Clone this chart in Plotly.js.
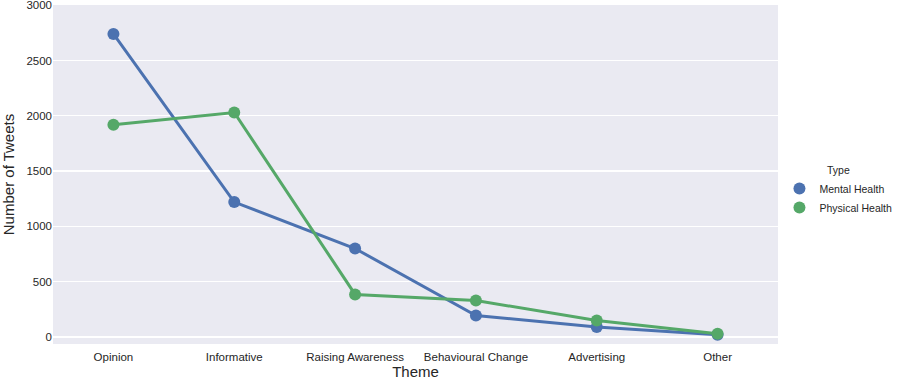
<!DOCTYPE html>
<html><head><meta charset="utf-8">
<script src="https://cdn.plot.ly/plotly-3.0.1.min.js"></script>
<style>html,body{margin:0;padding:0;background:#fff}</style>
</head><body><div id="chart" style="width:898px;height:380px"></div>
<script>
const themes = ["Opinion","Informative","Raising Awareness","Behavioural Change","Advertising","Other"];
const mentalHealth = [2740, 1220, 800, 195, 90, 20];
const physicalHealth = [1920, 2030, 385, 330, 150, 30];
const seriesNames = ["Mental Health","Physical Health"];
const colors = ['#4C72B0', '#55A868'];
const yTicks = [0, 500, 1000, 1500, 2000, 2500, 3000];

const mk = (name, y, color) => ({
  type: 'scatter', mode: 'lines+markers', name: name, x: themes, y: y, showlegend: false,
  line: {color: color, width: 3}, marker: {color: color, size: 12}
});
const proxy = (name, color) => ({
  type: 'scatter', mode: 'markers', name: name, x: [themes[0]], y: [null],
  marker: {color: color, size: 12}
});
const data = [
  mk(seriesNames[0], mentalHealth, colors[0]),
  mk(seriesNames[1], physicalHealth, colors[1]),
  proxy(seriesNames[0], colors[0]),
  proxy(seriesNames[1], colors[1])
];
const layout = {
  width: 898, height: 380,
  margin: {l: 53, r: 120, t: 5, b: 36, autoexpand: false},
  paper_bgcolor: '#ffffff', plot_bgcolor: '#EAEAF2',
  font: {family: 'Liberation Sans, Arial, sans-serif', color: '#262626', size: 11.5},
  xaxis: {type: 'category', range: [-0.5, 5.5], showgrid: false, zeroline: false,
    ticks: 'outside', ticklen: 2, tickcolor: 'rgba(0,0,0,0)', tickfont: {size: 11.5, color: '#262626'},
    title: {text: 'Theme', font: {size: 15, color: '#262626'}, standoff: 13}},
  yaxis: {range: [-63, 3002], tickvals: yTicks, showgrid: true, gridcolor: '#ffffff', gridwidth: 1.3,
    zeroline: false, ticks: '', ticklabeloverflow: 'allow', tickfont: {size: 11.5, color: '#262626'},
    title: {text: 'Number of Tweets', font: {size: 15, color: '#262626'}, standoff: 8}},
  legend: {x: 1.002, y: 0.45, xanchor: 'left', yanchor: 'middle',
    title: {text: 'Type', side: 'top center', font: {size: 10.5}},
    font: {size: 10.5}, bgcolor: 'rgba(0,0,0,0)', itemsizing: 'constant', itemwidth: 30, tracegroupgap: 0}
};
Plotly.newPlot('chart', data, layout, {displayModeBar: false, staticPlot: true});
</script></body></html>
